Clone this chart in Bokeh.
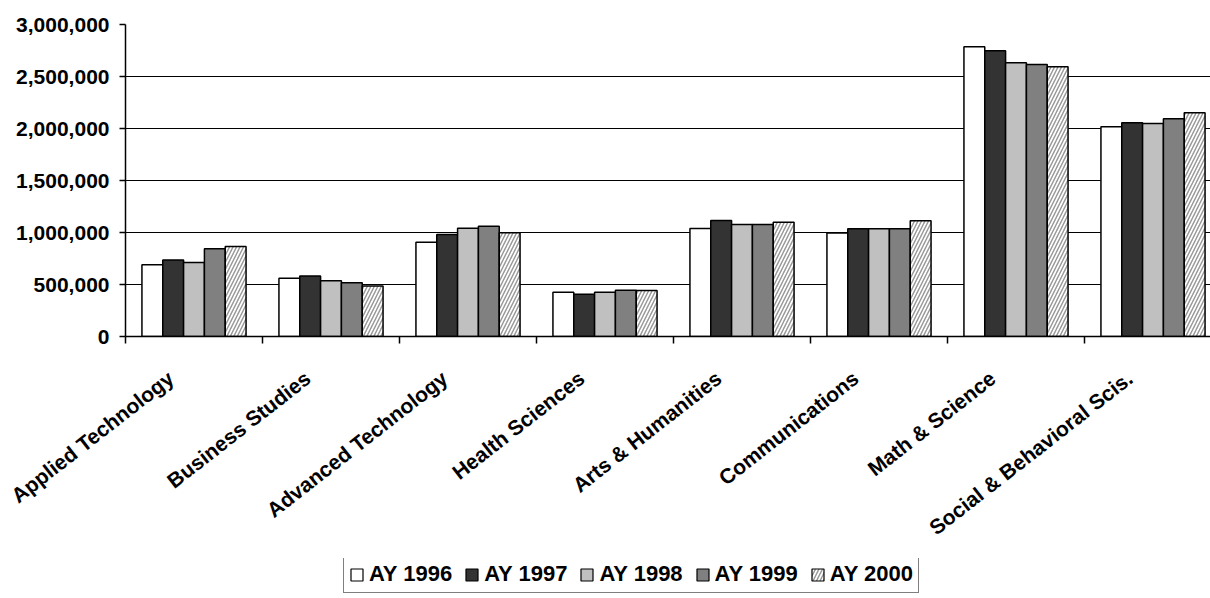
from bokeh.plotting import figure
from bokeh.layouts import column
from bokeh.models import (FixedTicker, NumeralTickFormatter, Legend, LegendItem,
                          Range1d, CustomJSTickFormatter)
from bokeh.embed import file_html
from bokeh.resources import INLINE

categories = ["Applied Technology", "Business Studies", "Advanced Technology",
              "Health Sciences", "Arts & Humanities", "Communications",
              "Math & Science", "Social & Behavioral Scis."]
series_names = ["AY 1996", "AY 1997", "AY 1998", "AY 1999", "AY 2000"]
ay1996 = [689000, 561000, 907000, 426000, 1038000, 994000, 2786000, 2016000]
ay1997 = [735000, 581000, 981000, 407000, 1115000, 1036000, 2747000, 2055000]
ay1998 = [711000, 535000, 1041000, 426000, 1077000, 1036000, 2632000, 2048000]
ay1999 = [843000, 516000, 1061000, 445000, 1077000, 1036000, 2615000, 2093000]
ay2000 = [865000, 485000, 997000, 442000, 1099000, 1112000, 2593000, 2151000]
y_ticks = [0, 500000, 1000000, 1500000, 2000000, 2500000, 3000000]

series_values = [ay1996, ay1997, ay1998, ay1999, ay2000]
fills = ["white", "#333333", "#c0c0c0", "#808080", "white"]
hatches = [None, None, None, None, "/"]

FONT = "Liberation Sans"
n = len(categories)
bar_w = 0.152
label_shift = 0.17


def bar_style(j, lw=1.5):
    kw = dict(fill_color=fills[j], line_color="black", line_width=lw)
    if hatches[j]:
        kw.update(hatch_pattern=hatches[j], hatch_color="#9a9a9a",
                  hatch_scale=7, hatch_weight=1.5)
    return kw


p = figure(width=1210, height=558, output_backend="svg", toolbar_location=None,
           x_range=Range1d(0, 1085 / 137), y_range=Range1d(0, 3000000),
           min_border_left=125, min_border_right=0, min_border_top=24,
           min_border_bottom=222, background_fill_color="white",
           border_fill_color="white", outline_line_color=None)

for j, vals in enumerate(series_values):
    xs = [i + 0.5 + (j - 2) * bar_w for i in range(n)]
    p.vbar(x=xs, top=vals, width=bar_w, bottom=0, **bar_style(j))

# x axis
xa = p.xaxis[0]
xa.ticker = FixedTicker(ticks=[i + 0.5 - label_shift for i in range(n)],
                        minor_ticks=list(range(n + 1)))
xa.formatter = CustomJSTickFormatter(args=dict(cats=categories),
                                     code="return cats[Math.floor(tick)]")
xa.major_label_orientation = 38 * 3.14159265 / 180
xa.major_tick_line_color = None
xa.major_tick_out = 0
xa.minor_tick_out = 7
xa.minor_tick_in = 0
xa.minor_tick_line_color = "black"
xa.minor_tick_line_width = 1.5
xa.axis_line_color = "black"
xa.axis_line_width = 1.5
xa.major_label_standoff = 32
xa.major_label_text_font = FONT
xa.major_label_text_font_style = "bold"
xa.major_label_text_font_size = "21px"
xa.major_label_text_color = "black"

# y axis
ya = p.yaxis[0]
ya.ticker = FixedTicker(ticks=y_ticks)
ya.formatter = NumeralTickFormatter(format="0,0")
ya.minor_tick_line_color = None
ya.major_tick_out = 6
ya.major_tick_in = 0
ya.major_tick_line_color = "black"
ya.major_tick_line_width = 1.5
ya.axis_line_color = "black"
ya.axis_line_width = 1.5
ya.major_label_standoff = 10
ya.major_label_text_font = FONT
ya.major_label_text_font_style = "bold"
ya.major_label_text_font_size = "21px"
ya.major_label_text_color = "black"

p.xgrid.grid_line_color = None
p.ygrid.ticker = FixedTicker(ticks=y_ticks)
p.ygrid.grid_line_color = "black"
p.ygrid.grid_line_width = 1.2

# legend strip below the chart (proxy glyphs sit outside its visible range)
lg = figure(width=1210, height=40, output_backend="svg", toolbar_location=None,
            x_range=Range1d(0, 1), y_range=Range1d(0, 1),
            min_border_left=0, min_border_right=0, min_border_top=0,
            min_border_bottom=0, outline_line_color=None,
            background_fill_color="white", border_fill_color="white")
lg.axis.visible = False
lg.grid.visible = False
items = []
for j, s in enumerate(series_names):
    r = lg.vbar(x=[-5], top=[-5], bottom=[-6], width=0.1, **bar_style(j, 1.2))
    items.append(LegendItem(label=s, renderers=[r]))

legend = Legend(items=items, orientation="horizontal", location=(218, 5),
                label_text_font=FONT, label_text_font_style="bold",
                label_text_font_size="22px", label_text_color="black",
                glyph_width=15, glyph_height=15, label_standoff=5,
                spacing=12, padding=5, margin=0, label_height=22,
                border_line_color="black", border_line_width=1.5,
                background_fill_color="white", background_fill_alpha=1)
lg.add_layout(legend, "center")

open("out.html", "w").write(file_html(column(p, lg, spacing=0), INLINE))
